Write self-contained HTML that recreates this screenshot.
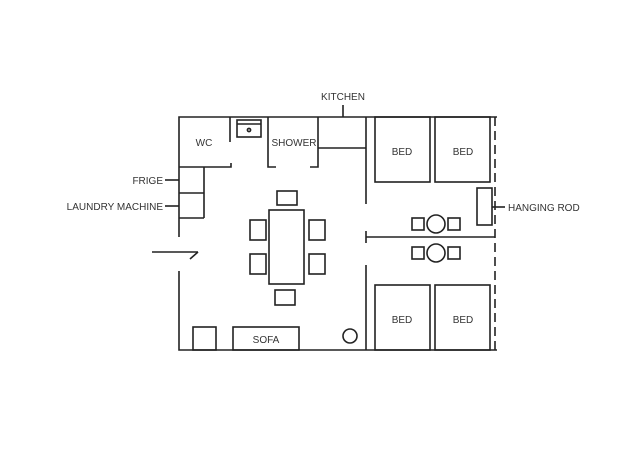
<!DOCTYPE html>
<html><head><style>body{margin:0;background:#fff}svg{display:block}text{font-family:"Liberation Sans",sans-serif;font-size:10px;fill:#333}</style></head>
<body>
<svg width="640" height="452" viewBox="0 0 640 452" xmlns="http://www.w3.org/2000/svg">
<g stroke="#222" stroke-width="1.6" fill="none">
<!-- outer walls -->
<polyline points="179,237 179,117 497,117"/>
<polyline points="179,271 179,350 497,350"/>
<line x1="495" y1="117" x2="495" y2="350" stroke-dasharray="9,5"/>
<!-- WC -->
<line x1="230" y1="117" x2="230" y2="142"/>
<polyline points="179,167 231,167 231,163"/>
<rect x="237" y="120" width="24" height="17"/>
<line x1="237" y1="124" x2="261" y2="124"/>
<circle cx="249" cy="130" r="1.6"/>
<!-- shower -->
<polyline points="268,117 268,167 276,167"/>
<polyline points="318,117 318,167 310,167"/>
<!-- kitchen -->
<line x1="318" y1="148" x2="366" y2="148"/>
<line x1="343" y1="105" x2="343" y2="117"/>
<line x1="366" y1="117" x2="366" y2="204"/>
<line x1="366" y1="265" x2="366" y2="350"/>
<!-- fridge / laundry -->
<line x1="204" y1="167" x2="204" y2="218"/>
<line x1="179" y1="193" x2="204" y2="193"/>
<line x1="179" y1="218" x2="204" y2="218"/>
<line x1="165" y1="180" x2="179" y2="180"/>
<line x1="165" y1="206" x2="179" y2="206"/>
<!-- door -->
<line x1="152" y1="252" x2="198" y2="252"/>
<line x1="198" y1="252" x2="190" y2="259"/>
<!-- table -->
<rect x="269" y="210" width="35" height="74"/>
<rect x="277" y="191" width="20" height="14"/>
<rect x="275" y="290" width="20" height="15"/>
<rect x="250" y="220" width="16" height="20"/>
<rect x="250" y="254" width="16" height="20"/>
<rect x="309" y="220" width="16" height="20"/>
<rect x="309" y="254" width="16" height="20"/>
<!-- living bottom -->
<rect x="193" y="327" width="23" height="23"/>
<rect x="233" y="327" width="66" height="23"/>
<circle cx="350" cy="336" r="7"/>
<!-- beds -->
<rect x="375" y="117" width="55" height="65"/>
<rect x="435" y="117" width="55" height="65"/>
<rect x="375" y="285" width="55" height="65"/>
<rect x="435" y="285" width="55" height="65"/>
<!-- middle -->
<line x1="366" y1="237" x2="495" y2="237"/>
<line x1="366" y1="231" x2="366" y2="243"/>
<rect x="477" y="188" width="15" height="37"/>
<line x1="492" y1="207" x2="505" y2="207"/>
<circle cx="436" cy="224" r="9"/>
<circle cx="436" cy="253" r="9"/>
<rect x="412" y="218" width="12" height="12"/>
<rect x="448" y="218" width="12" height="12"/>
<rect x="412" y="247" width="12" height="12"/>
<rect x="448" y="247" width="12" height="12"/>
</g>
<text x="343" y="100" text-anchor="middle">KITCHEN</text>
<text x="204" y="146" text-anchor="middle">WC</text>
<text x="294" y="146" text-anchor="middle">SHOWER</text>
<text x="163" y="184" text-anchor="end">FRIGE</text>
<text x="163" y="210" text-anchor="end">LAUNDRY MACHINE</text>
<text x="508" y="211">HANGING ROD</text>
<text x="266" y="343" text-anchor="middle">SOFA</text>
<text x="402" y="155" text-anchor="middle">BED</text>
<text x="463" y="155" text-anchor="middle">BED</text>
<text x="402" y="323" text-anchor="middle">BED</text>
<text x="463" y="323" text-anchor="middle">BED</text>
</svg>
</body></html>
